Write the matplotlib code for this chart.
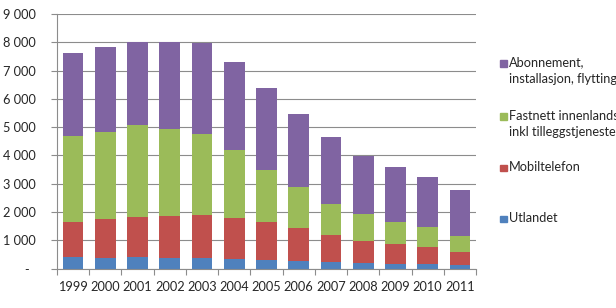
import matplotlib
matplotlib.use("Agg")
import matplotlib.pyplot as plt
from matplotlib.patches import Rectangle
from matplotlib.ticker import FixedLocator, FuncFormatter

plt.rcParams['font.family'] = ['Lato', 'DejaVu Sans']

years = ['1999', '2000', '2001', '2002', '2003', '2004', '2005', '2006',
         '2007', '2008', '2009', '2010', '2011']
utlandet = [413, 377, 400, 365, 365, 330, 295, 248, 224, 212, 165, 165, 130]
mobiltelefon = [1214, 1356, 1416, 1486, 1510, 1439, 1332, 1179, 943, 755, 708, 590, 471]
fastnett = [3066, 3102, 3255, 3066, 2877, 2417, 1852, 1439, 1121, 967, 778, 707, 543]
abonnement = [2913, 2983, 2948, 3078, 3208, 3125, 2889, 2582, 2346, 2052, 1922, 1757, 1615]

series = [
    ('Utlandet', utlandet, '#4F81BD'),
    ('Mobiltelefon', mobiltelefon, '#C0504D'),
    ('Fastnett innenlands\ninkl tilleggstjenester', fastnett, '#9BBB59'),
    ('Abonnement,\ninstallasjon, flytting', abonnement, '#8064A2'),
]

fig = plt.figure(figsize=(6.16, 3.08), dpi=100)
ax = fig.add_axes([57/616, 1-268.5/308, (476-57)/616, (268.5-14)/308])

x = list(range(len(years)))
bottom = [0]*len(years)
for name, vals, col in series:
    ax.bar(x, vals, width=0.64, bottom=bottom, color=col, zorder=2)
    bottom = [b+v for b, v in zip(bottom, vals)]

ax.set_xlim(-0.5, len(years)-0.5)
ax.set_ylim(0, 9000)
ax.set_axisbelow(True)
ax.yaxis.set_major_locator(FixedLocator(range(0, 9001, 1000)))
ax.yaxis.set_major_formatter(FuncFormatter(
    lambda v, p: '-  ' if v == 0 else f"{int(v):,}".replace(',', ' ')))
ax.grid(axis='y', color='#8C8C8C', linewidth=0.8, zorder=0)

ax.set_xticks(x)
ax.set_xticklabels(years)
ax.set_xticks([i-0.5 for i in range(len(years)+1)], minor=True)
ax.tick_params(axis='x', which='major', length=0, pad=9, labelsize=9.2, colors='#262626')
ax.tick_params(axis='x', which='minor', length=4, width=0.8, color='#8C8C8C', direction='out')
ax.tick_params(axis='y', length=4, width=0.8, color='#8C8C8C', pad=11, labelsize=9.2, labelcolor='#262626')

for s in ['top', 'right']:
    ax.spines[s].set_visible(False)
for s in ['left', 'bottom']:
    ax.spines[s].set_color('#8C8C8C')
    ax.spines[s].set_linewidth(0.8)

# legend (top series first)
leg_y = [63.5, 116.5, 168, 219]
for (name, vals, col), yy in zip(series[::-1], leg_y):
    fig.patches.append(Rectangle((500/616, 1-(yy+3.3)/308), 6.7/616, 6.7/308,
                                 transform=fig.transFigure, color=col))
    fig.text(509/616, 1-(yy-7)/308, name, fontsize=9.2, color='#262626',
             va='top', ha='left', linespacing=1.45)

fig.savefig('out.png', dpi=100)
